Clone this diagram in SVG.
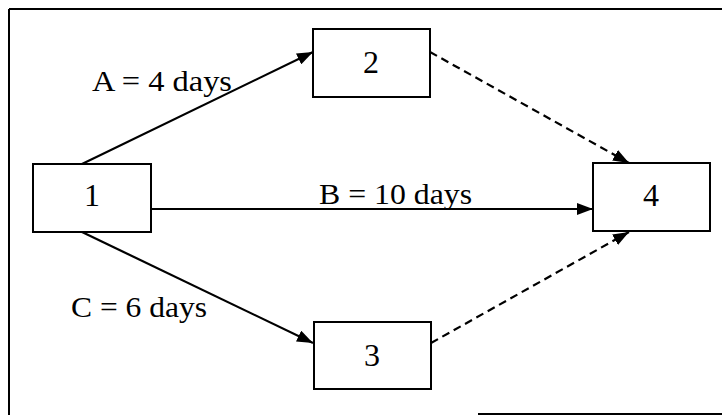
<svg xmlns="http://www.w3.org/2000/svg" width="722" height="415" viewBox="0 0 722 415">
<style>
.frame{stroke:#000;stroke-width:2;fill:none}
.box{fill:#fff;stroke:#000;stroke-width:2}
.edge{stroke:#000;stroke-width:2.2;fill:none}
.dash{stroke-dasharray:8 5}
.num{font-family:"Liberation Serif","Times New Roman",serif;font-size:32px;fill:#000;text-anchor:middle}
.lbl{font-family:"Liberation Serif","Times New Roman",serif;font-size:30px;fill:#000}
</style>
<defs>
<marker id="ah" viewBox="0 0 16 12" refX="16" refY="6" markerWidth="16" markerHeight="12" markerUnits="userSpaceOnUse" orient="auto">
<path d="M0,0 L16,6 L0,12 z" fill="#000"/>
</marker>
</defs>
<rect width="722" height="415" fill="#fff"/>
<g id="frame">
<line class="frame" x1="9" y1="9" x2="722" y2="9"/>
<line class="frame" x1="9" y1="9" x2="9" y2="415"/>
<line class="frame" x1="478" y1="414" x2="722" y2="414"/>
</g>
<g id="connectors">
<line class="edge" x1="82" y1="164" x2="313" y2="52" marker-end="url(#ah)"/>
<line class="edge" x1="151" y1="209" x2="593" y2="209" marker-end="url(#ah)"/>
<line class="edge" x1="82" y1="232" x2="313" y2="343" marker-end="url(#ah)"/>
<line class="edge dash" x1="430" y1="52" x2="629" y2="163" marker-end="url(#ah)"/>
<line class="edge dash" x1="431" y1="343" x2="629" y2="232" marker-end="url(#ah)"/>
<text class="lbl" x="92" y="91" textLength="140" lengthAdjust="spacingAndGlyphs">A = 4 days</text>
<text class="lbl" x="319" y="204" textLength="153" lengthAdjust="spacingAndGlyphs">B = 10 days</text>
<text class="lbl" x="71" y="317" textLength="136" lengthAdjust="spacingAndGlyphs">C = 6 days</text>
</g>
<g id="node1"><rect class="box" x="33" y="164" width="118" height="68"/><text class="num" x="92" y="206">1</text></g>
<g id="node2"><rect class="box" x="313" y="29" width="117" height="68"/><text class="num" x="371" y="73">2</text></g>
<g id="node3"><rect class="box" x="314" y="322" width="117" height="67"/><text class="num" x="372" y="366">3</text></g>
<g id="node4"><rect class="box" x="593" y="163" width="117" height="68"/><text class="num" x="651" y="206">4</text></g>
</svg>
